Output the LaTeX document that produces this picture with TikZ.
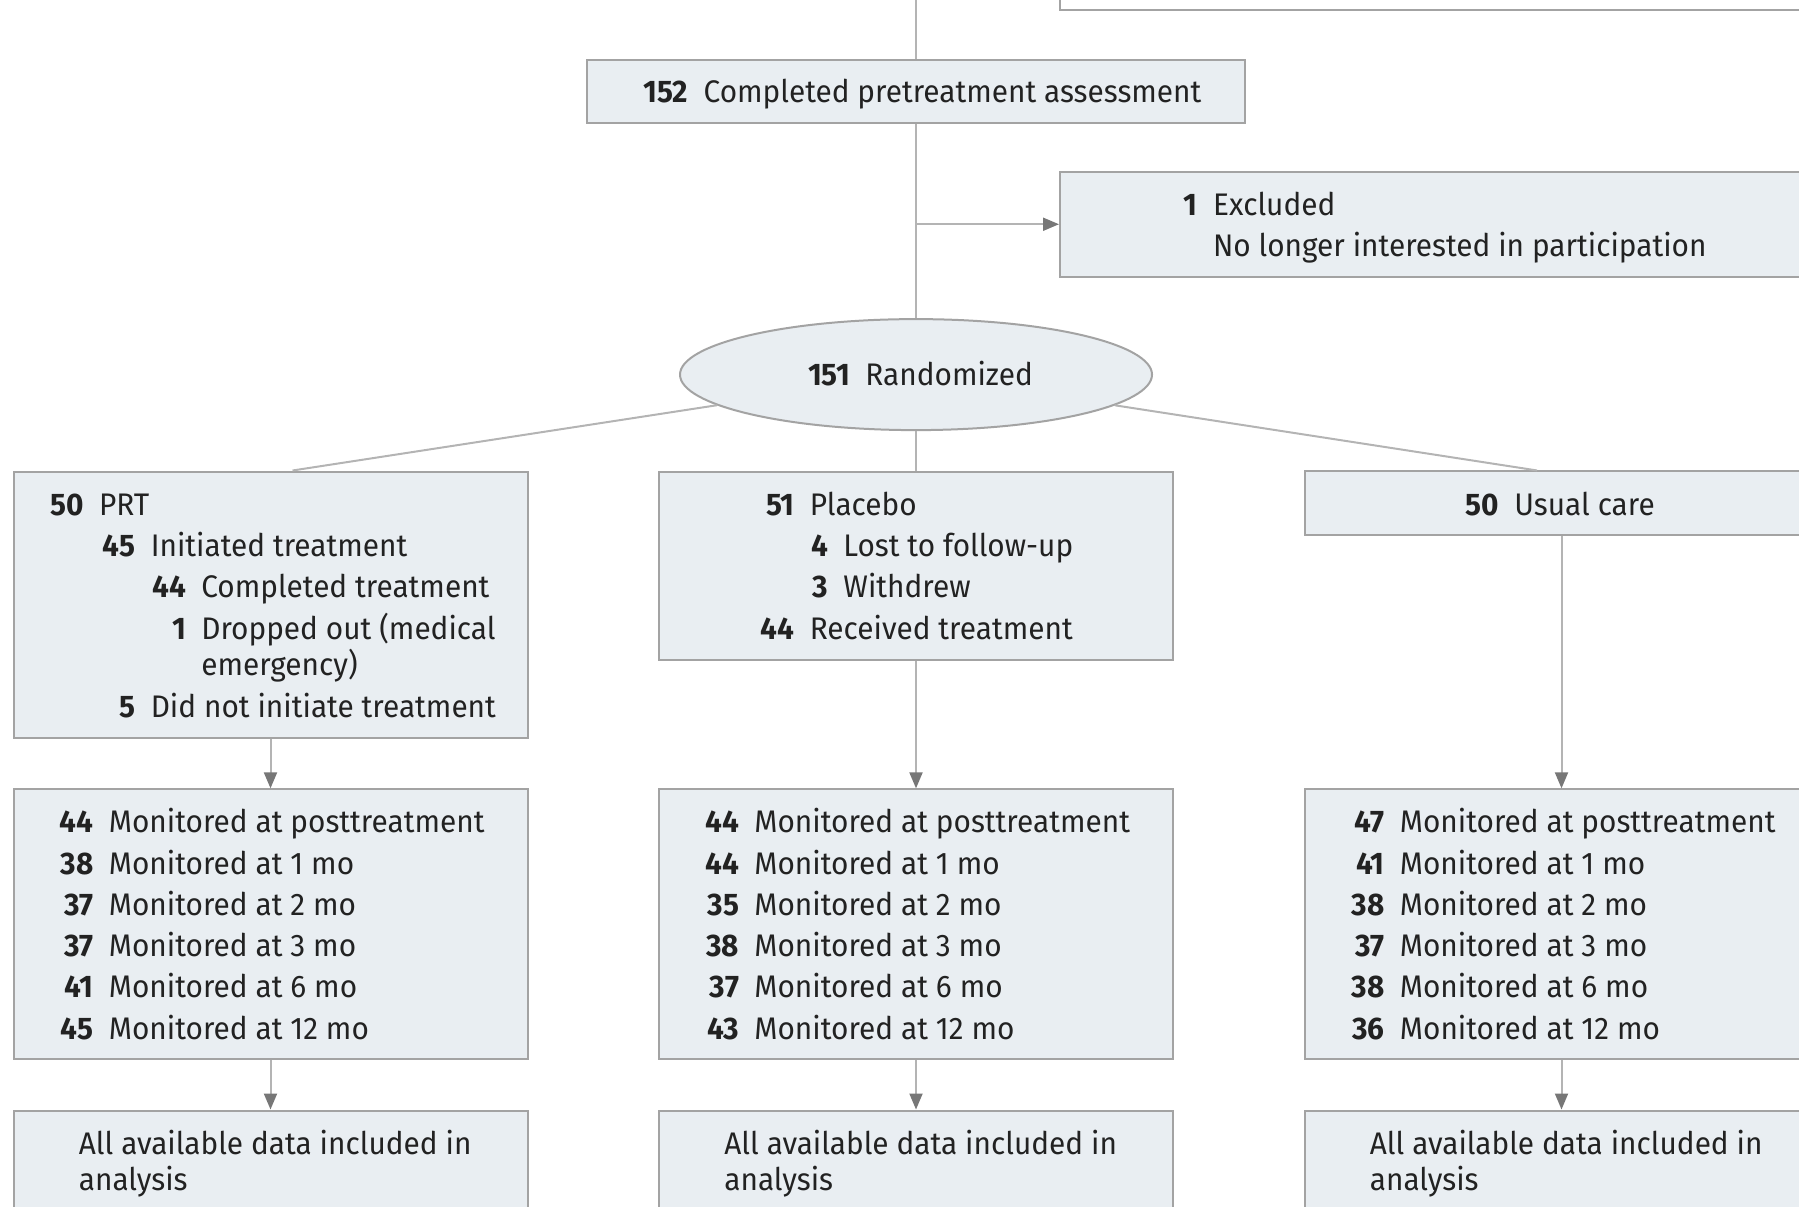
\documentclass[tikz,border=0pt]{standalone}
\usepackage{fontspec}
\setmainfont{Fira Sans}[FakeStretch=0.955]
\usetikzlibrary{arrows.meta,shapes.geometric}
\definecolor{boxfill}{HTML}{E9EEF2}
\definecolor{boxline}{HTML}{A3A3A3}
\definecolor{connc}{HTML}{B4B4B4}
\definecolor{tipc}{HTML}{777777}
\definecolor{ink}{HTML}{222222}
\newcommand{\nlab}[2]{\llap{\textbf{#1}\hspace{7.7pt}}#2}
\begin{document}
\begin{tikzpicture}[x=0.5pt,y=-0.5pt,
  font=\fontsize{15.6}{18}\selectfont,
  box/.style={draw=boxline, line width=1pt, fill=boxfill, rectangle, inner sep=0, minimum width=257pt},
  txt/.style={anchor=base west, inner sep=0, text=ink},
  connl/.style={draw=connc, line width=1pt},
  arr/.style={connl, -{Triangle[length=8pt,width=6.5pt,color=tipc]}}]
\useasboundingbox (0,0) rectangle (1799,1206);
% boxes
\node[box, minimum width=395pt, minimum height=50pt, fill=white] (prev) at (1455,-40) {};
\node[box, minimum width=328.7pt, minimum height=31.55pt] (pre) at (916,91.25) {};
\node[box, minimum width=395pt, minimum height=52.25pt] (excl) at (1455,224.25) {};
\node[draw=boxline, line width=1pt, fill=boxfill, ellipse, minimum width=236pt, minimum height=55.5pt, inner sep=0] (rand) at (916,374.6) {};
\node[box, minimum height=133.1pt] (prt) at (270.5,604.6) {};
\node[box, minimum height=94.1pt] (plc) at (916,565.6) {};
\node[box, minimum height=31.55pt] (usu) at (1561.5,503) {};
\node[box, minimum height=134.85pt] (monP) at (270.5,924.2) {};
\node[box, minimum height=134.85pt] (monL) at (916,924.2) {};
\node[box, minimum height=134.85pt] (monU) at (1561.5,924.2) {};
\node[box, minimum height=69.5pt] (anaP) at (270.5,1180) {};
\node[box, minimum height=69.5pt] (anaL) at (916,1180) {};
\node[box, minimum height=69.5pt] (anaU) at (1561.5,1180) {};
% connectors
\coordinate (topin) at (916,0);
\coordinate (br) at (916,224.25);
\draw[connl] (topin) -- (pre.north);
\draw[connl] (pre.south) -- (rand.north);
\draw[arr] (br) -- (excl.west);
\draw[connl] (rand) -- ([xshift=11pt]prt.north);
\draw[connl] (rand) -- (plc.north);
\draw[connl] (rand) -- ([xshift=-12.25pt]usu.north);
\draw[arr] (prt.south) -- (monP.north);
\draw[arr] (plc.south) -- (monL.north);
\draw[arr] (usu.south) -- (monU.north);
\draw[arr] (monP.south) -- (anaP.north);
\draw[arr] (monL.south) -- (anaL.north);
\draw[arr] (monU.south) -- (anaU.north);
% texts
\node[txt] (t152) at (703.3,102.5) {\nlab{152}{Completed pretreatment assessment}};
\node[txt] (tex1) at (1212.7,215) {\nlab{1}{Excluded}};
\node[txt] (tex2) at (1212.7,256.7) {No longer interested in participation};
\node[txt] (trand) at (865,385) {\nlab{151}{Randomized}};
% PRT
\node[txt] (p1) at (98.7,515) {\nlab{50}{PRT}};
\node[txt] (p2) at (150.4,556) {\nlab{45}{Initiated treatment}};
\node[txt] (p3) at (201,597.7) {\nlab{44}{Completed treatment}};
\node[txt] (p4) at (201,639.3) {\nlab{1}{Dropped out (medical}};
\node[txt] (p5) at (201,675.7) {emergency)};
\node[txt] (p6) at (150.4,717.7) {\nlab{5}{Did not initiate treatment}};
% Placebo
\node[txt] (q1) at (809.5,515) {\nlab{51}{Placebo}};
\node[txt] (q2) at (843,556) {\nlab{4}{Lost to follow-up}};
\node[txt] (q3) at (843,597.7) {\nlab{3}{Withdrew}};
\node[txt] (q4) at (809.5,639.3) {\nlab{44}{Received treatment}};
% Usual care
\node[txt] (u1) at (1514,515) {\nlab{50}{Usual care}};
% monitored
\foreach \c/\x/\a/\b/\cc/\d/\e/\f in {P/108.5/44/38/37/37/41/45, L/754/44/44/35/38/37/43, U/1399.5/47/41/38/37/38/36}{
  \node[txt] (m\c1) at (\x,832.7) {\nlab{\a}{Monitored at posttreatment}};
  \node[txt] (m\c2) at (\x,874) {\nlab{\b}{Monitored at 1 mo}};
  \node[txt] (m\c3) at (\x,915.3) {\nlab{\cc}{Monitored at 2 mo}};
  \node[txt] (m\c4) at (\x,956.6) {\nlab{\d}{Monitored at 3 mo}};
  \node[txt] (m\c5) at (\x,997.9) {\nlab{\e}{Monitored at 6 mo}};
  \node[txt] (m\c6) at (\x,1039.2) {\nlab{\f}{Monitored at 12 mo}};
}
\foreach \c/\x in {P/78.5, L/724, U/1369.5}{
  \node[txt] (a\c1) at (\x,1154) {All available data included in};
  \node[txt] (a\c2) at (\x,1190.5) {analysis};
}
\end{tikzpicture}
\end{document}
